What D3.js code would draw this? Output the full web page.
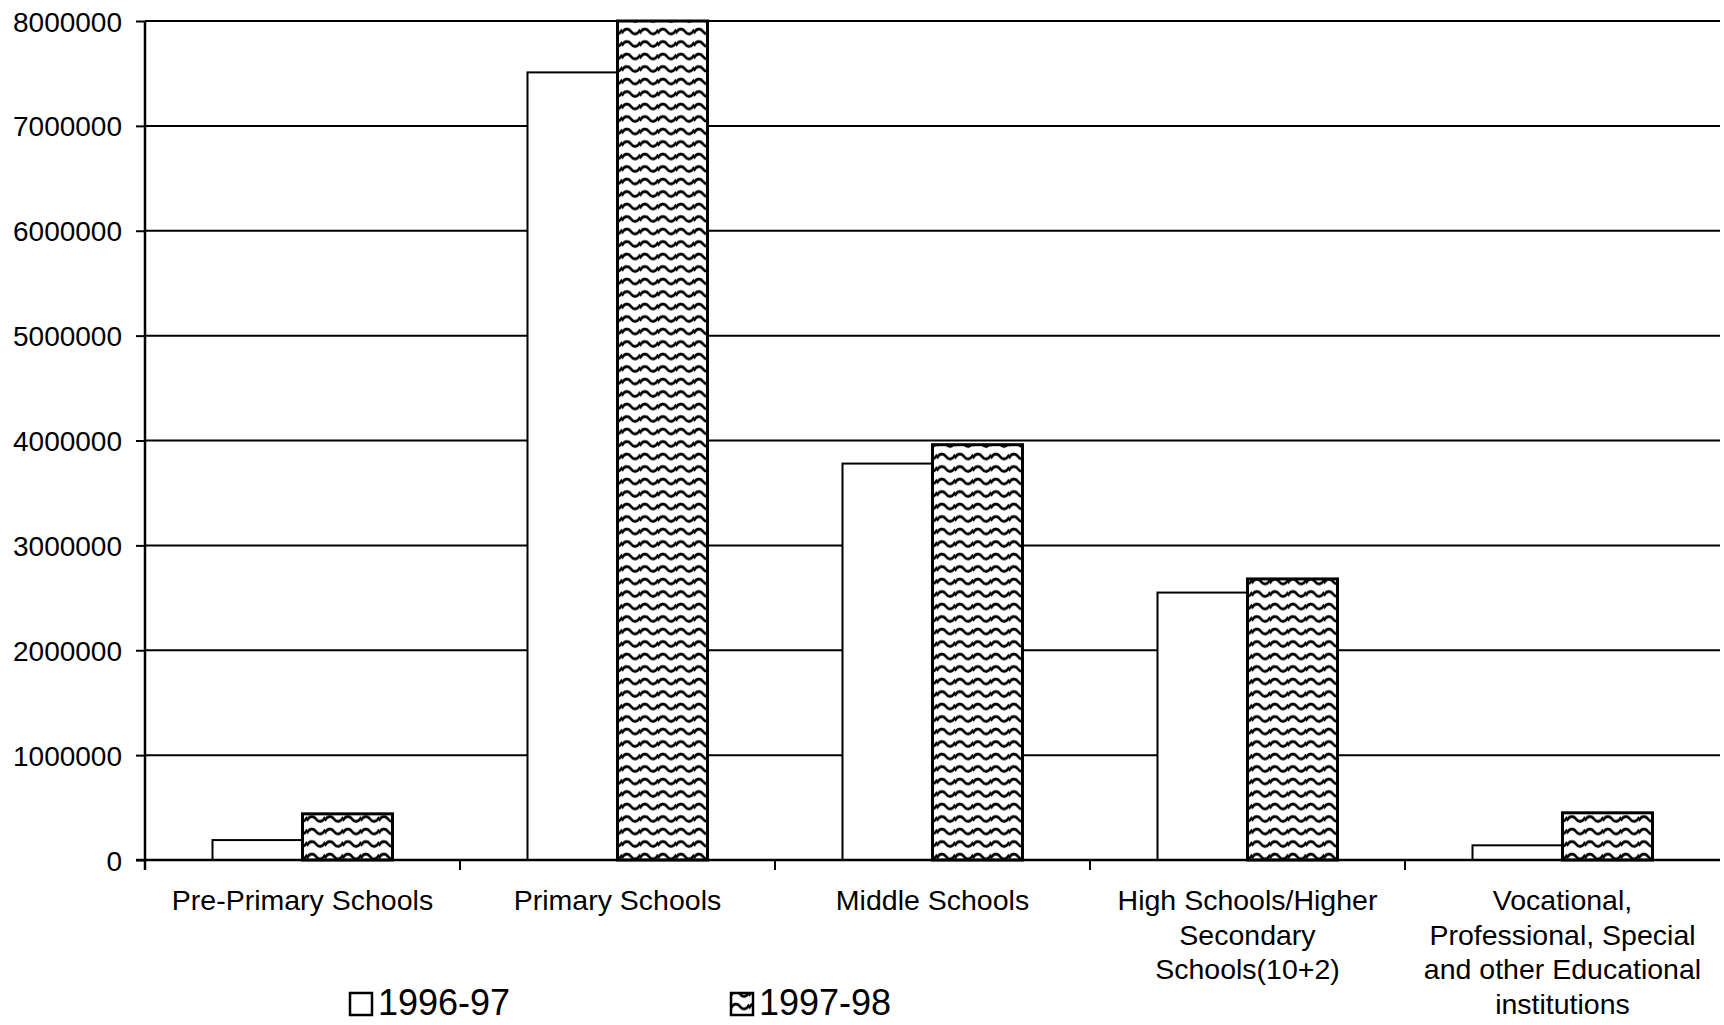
<!DOCTYPE html>
<html lang="en">
  <head>
    <meta charset="utf-8">
    <title>Schools enrolment</title>
    <script src="https://d3js.org/d3.v7.min.js"></script>
    <style>
      body { margin: 0; background: #fff; }
      text { font-family: "Liberation Sans", Arial, sans-serif; fill: #000; }
    </style>
  </head>
  <body>
    <div id="chart"></div>
    <script>

      var categories = ["Pre-Primary Schools", "Primary Schools", "Middle Schools",
        "High Schools/Higher Secondary Schools(10+2)",
        "Vocational, Professional, Special and other Educational institutions"];

      var categoryLines = [
        ["Pre-Primary Schools"],
        ["Primary Schools"],
        ["Middle Schools"],
        ["High Schools/Higher", "Secondary", "Schools(10+2)"],
        ["Vocational,", "Professional, Special", "and other Educational", "institutions"]];

      var seriesNames = ["1996-97", "1997-98"];
      var values9697 = [190000, 7510000, 3780000, 2550000, 140000];
      var values9798 = [440000, 8000000, 3960000, 2680000, 450000];
      var yTicks = [0, 1000000, 2000000, 3000000, 4000000, 5000000, 6000000, 7000000, 8000000];

      var width = 1724;
      var height = 1025;
      var margin = {top: 21, left: 145, right: 4, bottom: 165};

      var data = categories.map(function(c, i) {
        return {cat: c, values: [
          {s: seriesNames[0], v: values9697[i]},
          {s: seriesNames[1], v: values9798[i]}]};
      });

      var svg = d3.select("#chart")
        .append("svg")
        .attr("width", width)
        .attr("height", height);

      // wavy fill for the second series
      var defs = svg.append("defs");
      var pat = defs.append("pattern")
        .attr("id", "wave")
        .attr("patternUnits", "userSpaceOnUse")
        .attr("width", 18)
        .attr("height", 12.5);
      pat.append("rect").attr("width", 18).attr("height", 12.5).attr("fill", "#fff");
      pat.append("path")
        .attr("d", "M-0.5,8.5 C2.5,3 6.5,3 9,6.5 C11.5,10 15.5,10 18.5,4.5")
        .attr("fill", "none")
        .attr("stroke", "#000")
        .attr("stroke-width", 2.8);

      var x0 = d3.scaleBand()
        .domain(categories)
        .range([margin.left, width - margin.right])
        .paddingInner(0)
        .paddingOuter(0);

      var bw = x0.bandwidth();
      var x1 = d3.scaleBand()
        .domain(seriesNames)
        .range([bw * 0.75 / 3.5, bw * 2.75 / 3.5])
        .padding(0);

      var yScale = d3.scaleLinear()
        .domain([0, 8000000])
        .range([height - margin.bottom, margin.top]);

      // gridlines
      svg.append("g")
        .selectAll("line")
        .data(yTicks.slice(1))
        .enter()
        .append("line")
          .attr("x1", margin.left)
          .attr("x2", width - margin.right)
          .attr("y1", function(d){return yScale(d);})
          .attr("y2", function(d){return yScale(d);})
          .attr("stroke", "#000")
          .attr("stroke-width", 2);

      var yAxis = svg.append("g")
        .attr("transform", `translate(${margin.left},0)`)
        .call(d3.axisLeft(yScale).tickValues(yTicks).tickFormat(d3.format("d")).tickSize(9).tickPadding(14));
      yAxis.select(".domain").attr("stroke-width", 2.5).attr("d", `M0,${margin.top}V${height - margin.bottom + 10}`);
      yAxis.selectAll(".tick line").attr("stroke-width", 2);
      yAxis.selectAll("text")
        .style("font-family", "'Liberation Sans', Arial, sans-serif")
        .style("font-size", "28px")
        .attr("dy", "0.36em");

      // bars
      var groups = svg.append("g")
        .selectAll("g")
        .data(data)
        .enter()
        .append("g")
          .attr("transform", function(d){return `translate(${x0(d.cat)},0)`;});

      groups.selectAll("rect")
        .data(function(d){return d.values;})
        .enter()
        .append("rect")
          .attr("x", function(d){return x1(d.s);})
          .attr("y", function(d){return yScale(d.v);})
          .attr("width", x1.bandwidth())
          .attr("height", function(d){return yScale(0) - yScale(d.v);})
          .attr("fill", function(d){return d.s == seriesNames[0] ? "#fff" : "url(#wave)";})
          .attr("stroke", "#000")
          .attr("stroke-width", function(d){return d.s == seriesNames[0] ? 2 : 3;});

      // x axis
      var xAxis = svg.append("g")
        .attr("transform", `translate(0,${height - margin.bottom})`);
      xAxis.append("line")
        .attr("x1", margin.left - 9)
        .attr("x2", width - margin.right)
        .attr("stroke", "#000")
        .attr("stroke-width", 2.5);
      xAxis.selectAll(".xtick")
        .data(categories.slice(1))
        .enter()
        .append("line")
          .attr("class", "xtick")
          .attr("x1", function(d){return x0(d);})
          .attr("x2", function(d){return x0(d);})
          .attr("y1", 0)
          .attr("y2", 10)
          .attr("stroke", "#000")
          .attr("stroke-width", 2);

      var labels = svg.append("g")
        .selectAll("text")
        .data(categories)
        .enter()
        .append("text")
          .attr("x", function(d){return x0(d) + bw / 2;})
          .attr("y", 910)
          .attr("text-anchor", "middle")
          .style("font-size", "28.5px");
      labels.selectAll("tspan")
        .data(function(d, i){return categoryLines[i];})
        .enter()
        .append("tspan")
          .attr("x", function(){return d3.select(this.parentNode).attr("x");})
          .attr("dy", function(d, i){return i == 0 ? 0 : 34.5;})
          .text(function(d){return d;});

      // legend
      var legend = svg.append("g")
        .selectAll("g")
        .data(seriesNames)
        .enter()
        .append("g")
          .attr("transform", function(d, i){return `translate(${350 + i * 381},0)`;});
      legend.append("rect")
        .attr("x", 0)
        .attr("y", 993)
        .attr("width", 22)
        .attr("height", 22)
        .attr("fill", function(d, i){return i == 0 ? "#fff" : "url(#wave)";})
        .attr("stroke", "#000")
        .attr("stroke-width", 2.5);
      legend.append("text")
        .attr("x", 28)
        .attr("y", 1015)
        .style("font-size", "36px")
        .text(function(d){return d;});

    </script>
  </body>
</html>
